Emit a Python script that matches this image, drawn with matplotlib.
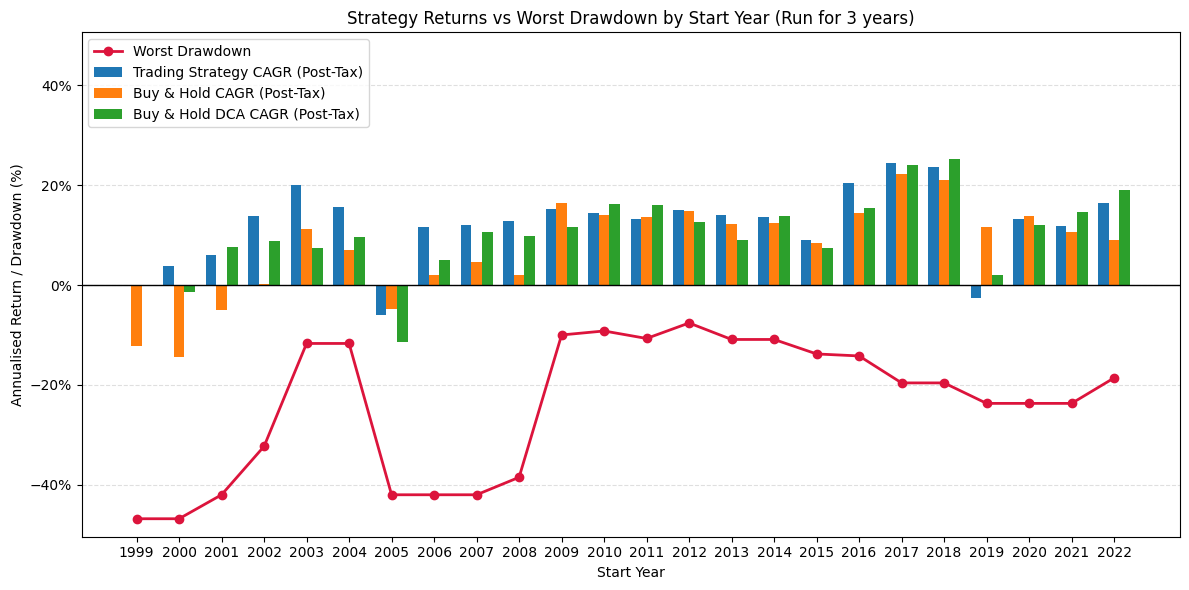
import numpy as np
import matplotlib
matplotlib.use("Agg")
import matplotlib.pyplot as plt
from matplotlib.ticker import PercentFormatter

years = list(range(1999, 2023))

strategy_cagr = [0.0, 3.8, 6.0, 13.8, 20.0, 15.6, -6.1, 11.6, 12.0, 12.8, 15.2, 14.4,
                 13.2, 15.0, 14.0, 13.6, 9.0, 20.4, 24.4, 23.6, -2.5, 13.2, 11.8, 16.4]
buy_hold_cagr = [-12.3, -14.5, -5.1, 0.2, 11.2, 7.0, -4.9, 2.0, 4.6, 2.0, 16.4, 14.0,
                 13.6, 14.8, 12.2, 12.4, 8.4, 14.4, 22.2, 21.0, 11.6, 13.8, 10.6, 9.0]
dca_cagr = [0.0, -1.3, 7.6, 8.8, 7.4, 9.6, -11.5, 5.0, 10.6, 9.8, 11.6, 16.2,
            16.0, 12.6, 9.0, 13.8, 7.4, 15.4, 24.0, 25.2, 2.0, 12.0, 14.6, 19.0]
worst_drawdown = [-46.8, -46.8, -42.0, -32.3, -11.7, -11.7, -42.0, -42.0, -42.0, -38.5,
                  -10.0, -9.2, -10.7, -7.6, -10.9, -10.9, -13.8, -14.2, -19.6, -19.6,
                  -23.7, -23.7, -23.7, -18.6]

x = np.arange(len(years))
width = 0.25

fig, ax = plt.subplots(figsize=(12, 6))

ax.bar(x - width, strategy_cagr, width, color="#1f77b4",
       label="Trading Strategy CAGR (Post-Tax)")
ax.bar(x, buy_hold_cagr, width, color="#ff7f0e",
       label="Buy & Hold CAGR (Post-Tax)")
ax.bar(x + width, dca_cagr, width, color="#2ca02c",
       label="Buy & Hold DCA CAGR (Post-Tax)")

ax.plot(x, worst_drawdown, color="crimson", marker="o", linewidth=2,
        markersize=6, label="Worst Drawdown")

ax.axhline(0, color="black", linewidth=1)
ax.yaxis.grid(True, linestyle="--", alpha=0.4)
ax.set_axisbelow(True)

ax.set_xticks(x)
ax.set_xticklabels(years)
ax.set_xlim(-1.295, len(years) + 0.55)
ax.set_ylim(-50.4, 50.6)
ax.set_yticks([-40, -20, 0, 20, 40])
ax.yaxis.set_major_formatter(PercentFormatter(decimals=0))

ax.set_xlabel("Start Year")
ax.set_ylabel("Annualised Return / Drawdown (%)")
ax.set_title("Strategy Returns vs Worst Drawdown by Start Year (Run for 3 years)")
ax.legend(loc="upper left")

plt.tight_layout()
plt.savefig("out.png", dpi=100, bbox_inches="tight")
